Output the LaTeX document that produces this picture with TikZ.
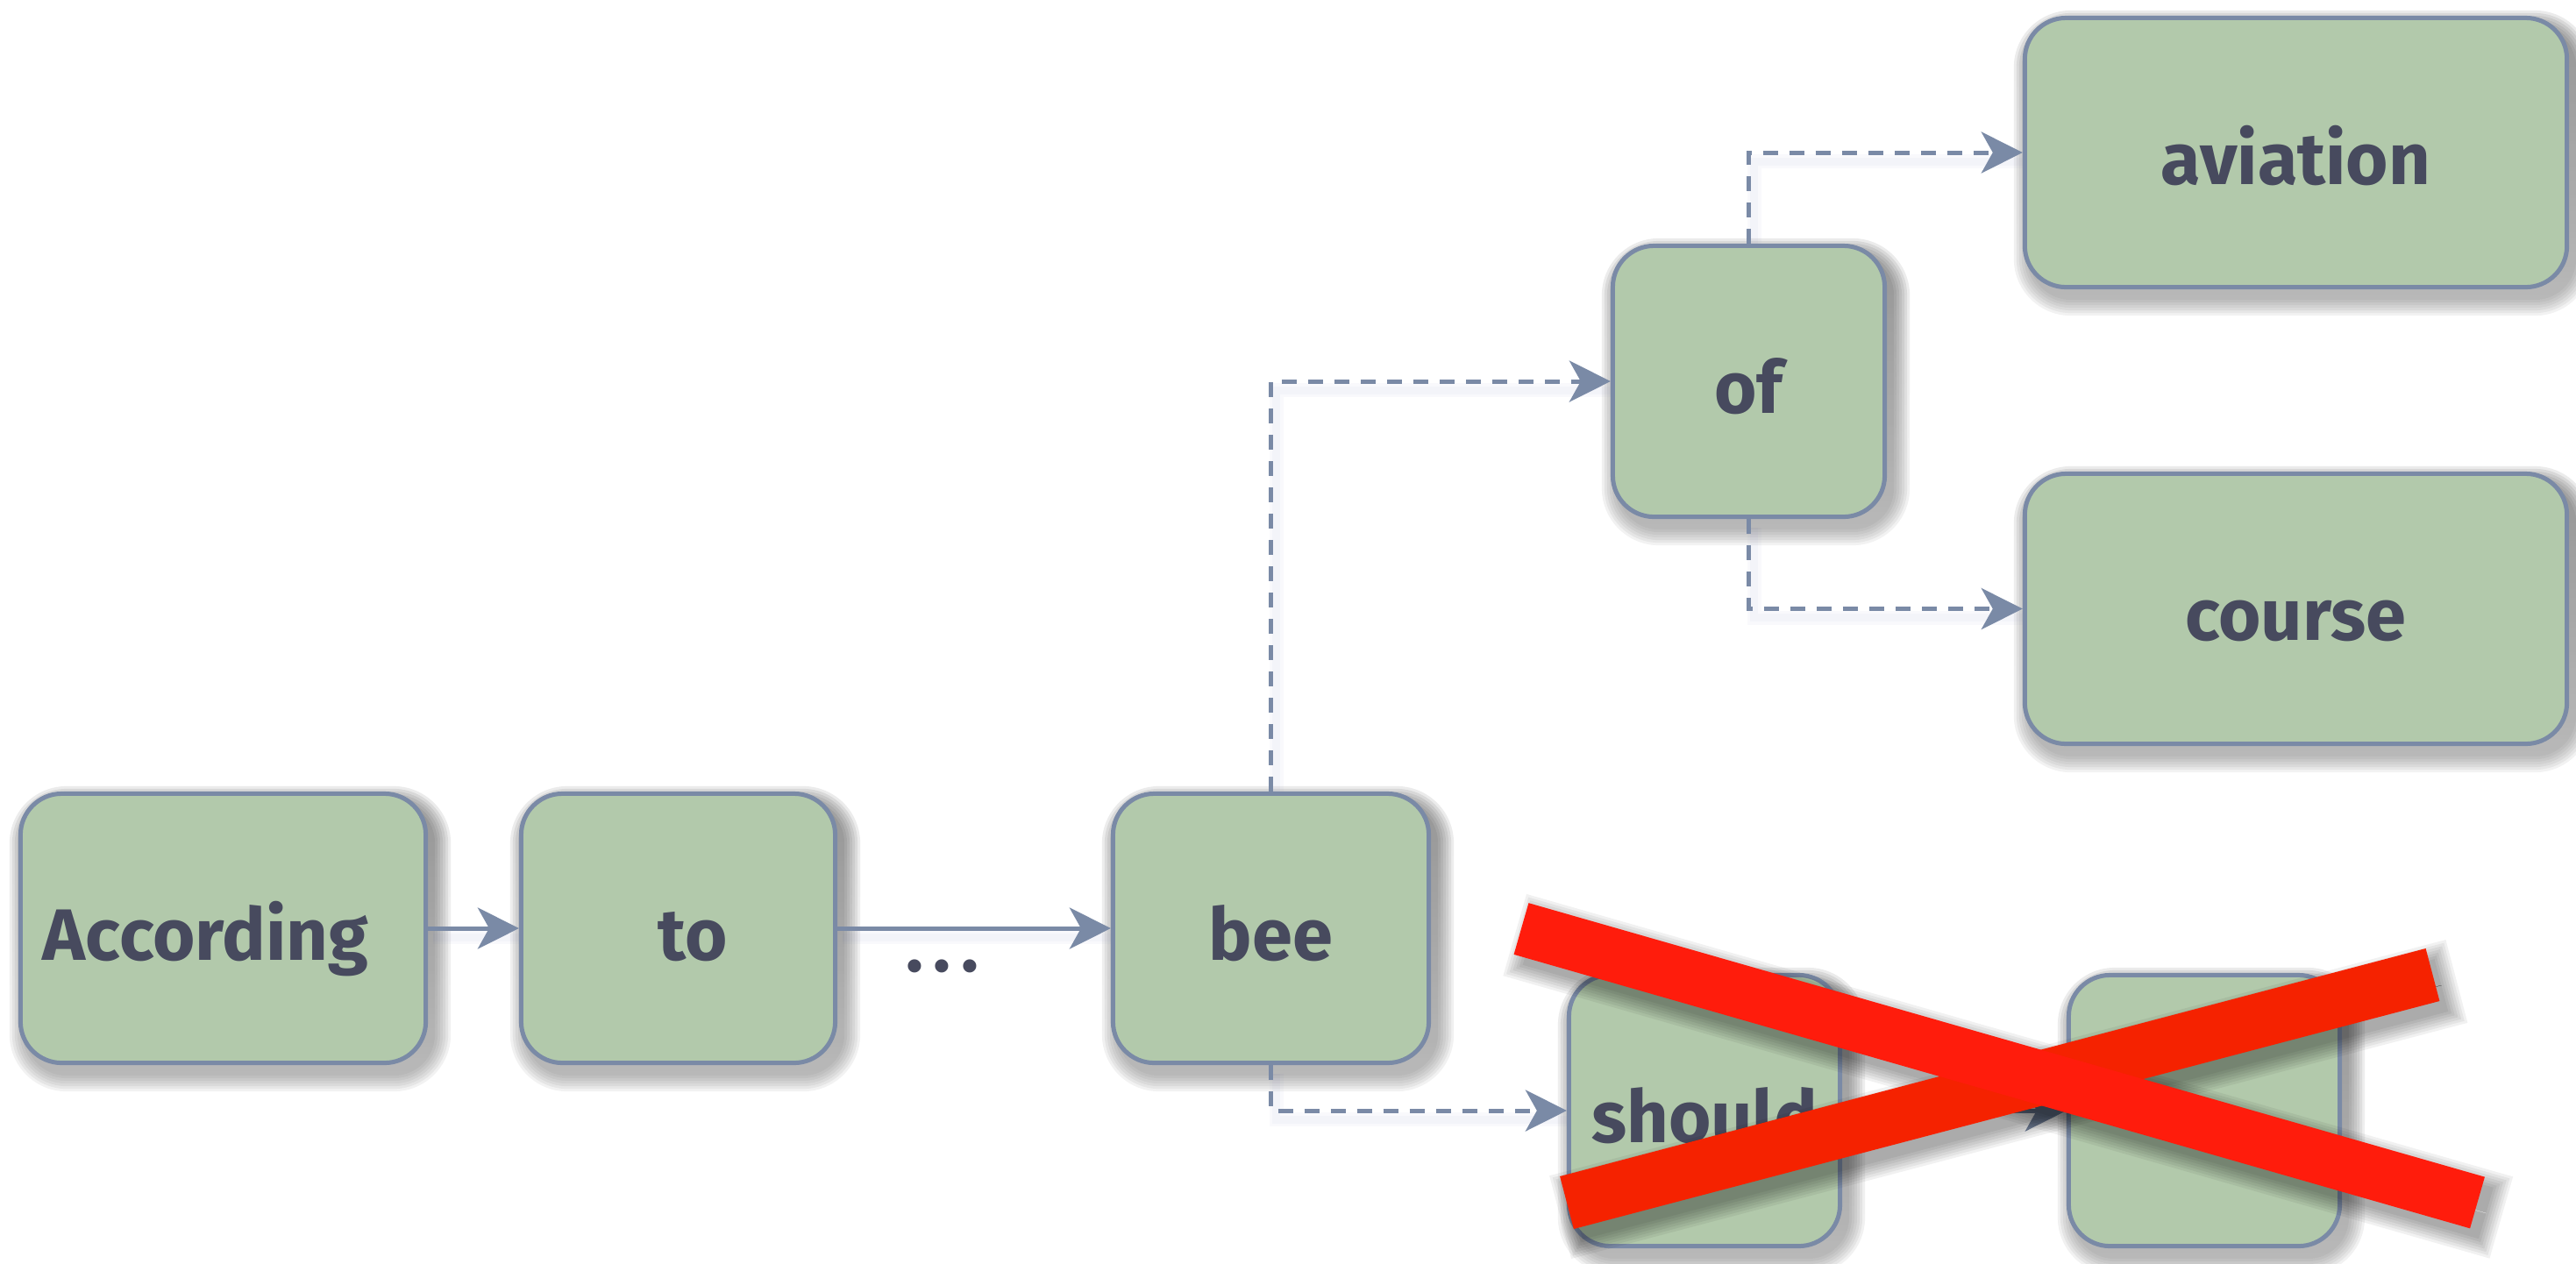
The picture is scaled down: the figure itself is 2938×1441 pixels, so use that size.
\documentclass[tikz,border=0pt]{standalone}
\usepackage{fontspec}
\setmainfont{Fira Sans}
\usetikzlibrary{arrows.meta}

\definecolor{boxfill}{RGB}{178,201,171}
\definecolor{boxline}{RGB}{122,138,166}
\definecolor{wordink}{RGB}{71,74,94}
\definecolor{crossA}{RGB}{255,28,12}
\definecolor{crossB}{RGB}{245,34,0}
\definecolor{shade}{RGB}{92,98,172}

\pgfdeclarelayer{shadows}
\pgfsetlayers{shadows,main}

% soft drop shadow under a named box
\newcommand\boxshade[1]{%
  \foreach \g in {0,3,...,18}{%
    \fill[shade, fill opacity=0.055, rounded corners={(47+\g)*0.01cm}]
      ([xshift={(8-\g)*0.01cm}, yshift={(-12-\g)*0.01cm}]#1.south west)
      rectangle
      ([xshift={(8+\g)*0.01cm}, yshift={(-12+\g)*0.01cm}]#1.north east);
  }}

% soft drop shadow under a thick bar between two coordinates
\newcommand\barshade[3]{%
  \foreach \g in {0,3,...,18}{%
    \draw[shade, draw opacity=0.055, line width={(#3+2*\g)*0.01cm},
          shorten <={-\g*0.01cm}, shorten >={-\g*0.01cm},
          transform canvas={xshift=0.1cm, yshift=-0.12cm}] (#1) -- (#2);
  }}

\tikzset{
  wordbox/.style={draw=boxline, line width=0.05cm, fill=boxfill,
    rounded corners=0.47cm, inner sep=0pt, text=wordink,
    font=\fontsize{23.6}{28}\selectfont\bfseries,
    text height=0.92cm, text depth=0.2cm},
  link/.style={draw=boxline, line width=0.05cm,
    -{Stealth[length=0.47cm, width=0.47cm, inset=0.13cm]}},
  dashlink/.style={link, line width=0.05cm, dash pattern=on 0.17cm off 0.13cm},
  wireshade/.style={draw=shade, draw opacity=0.035,
    transform canvas={xshift=0.06cm, yshift=-0.1cm}},
}

\begin{document}
\begin{tikzpicture}[x=0.01cm, y=-0.01cm]
\useasboundingbox (0,0) rectangle (2938,1441);

% word boxes
\node[wordbox, minimum width=4.62cm, minimum height=3.07cm] (according) at (254.5,1059) {According\kern0.4cm};
\node[wordbox, minimum width=3.58cm, minimum height=3.07cm] (to) at (773.5,1059) {\kern0.33cm to};
\node[wordbox, minimum width=3.60cm, minimum height=3.07cm] (bee) at (1449.5,1059) {bee};
\node[wordbox, minimum width=3.10cm, minimum height=3.09cm] (of) at (1994.5,435) {of};
\node[wordbox, minimum width=6.18cm, minimum height=3.07cm] (aviation) at (2618.5,174) {aviation};
\node[wordbox, minimum width=6.18cm, minimum height=3.08cm] (course) at (2618.5,694.5) {course};
\node[wordbox, minimum width=3.09cm, minimum height=3.09cm] (should) at (1944,1267) {should};
\node[wordbox, minimum width=3.09cm, minimum height=3.09cm] (blank) at (2514,1267) {};

\node[text=wordink, font=\fontsize{23.6}{28}\selectfont\bfseries, inner sep=0pt, anchor=base]
  (dots) at (1075,1108) {.\kern0.12cm.\kern0.12cm.};

% connectors
\draw[link] (according) -- (to);
\draw[link] (to) -- (bee);
\draw[dashlink] (bee.north) |- (of.west);
\draw[dashlink] (of.north) |- (aviation.west);
\draw[dashlink] (of.south) |- (course.west);
\draw[dashlink] (bee.south) |- (should.west);
\draw[link] (should) -- (blank);

% shadows behind boxes and connectors
\begin{pgfonlayer}{shadows}
  \foreach \n in {according,to,bee,of,aviation,course,should,blank}{\boxshade{\n}}
  \foreach \w in {0.16cm,0.09cm}{
    \draw[wireshade, line width=\w] (according) -- (to);
    \draw[wireshade, line width=\w] (to) -- (bee);
    \draw[wireshade, line width=\w] (bee.north) |- (of.west);
    \draw[wireshade, line width=\w] (of.north) |- (aviation.west);
    \draw[wireshade, line width=\w] (of.south) |- (course.west);
    \draw[wireshade, line width=\w] (bee.south) |- (should.west);
  }
\end{pgfonlayer}

% the red cross over the last two boxes
\coordinate (xa1) at (1735,1059.5);
\coordinate (xa2) at (2825.5,1372);
\coordinate (xb1) at (1787,1372);
\coordinate (xb2) at (2774.5,1112);
\barshade{xb1}{xb2}{62}
\barshade{xa1}{xa2}{61}
\draw[crossB, line width=0.62cm] (xb1) -- (xb2);
\draw[crossA, line width=0.61cm] (xa1) -- (xa2);
\end{tikzpicture}
\end{document}
